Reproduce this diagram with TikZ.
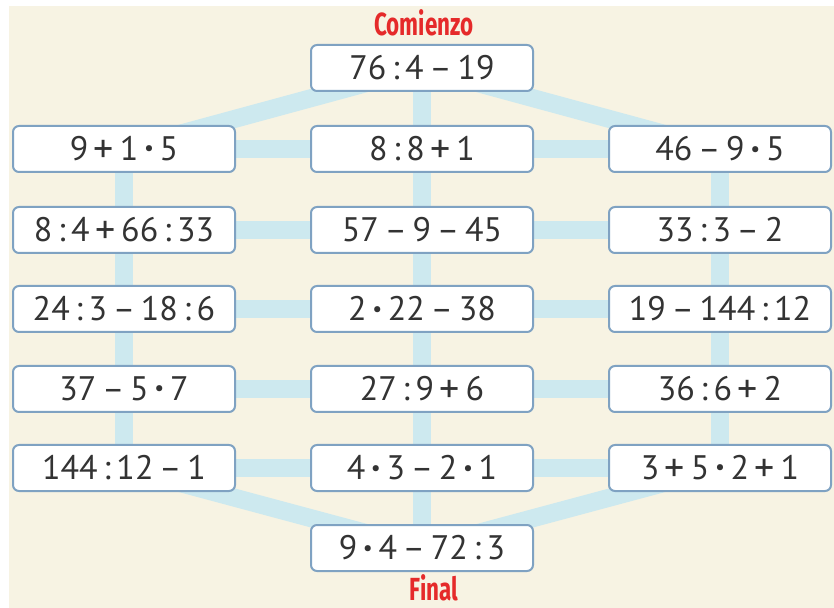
\documentclass[tikz,border=0pt]{standalone}
\usepackage{fontspec}
\setmainfont{PT Sans}
\newfontfamily\headfont[FakeStretch=0.7]{Fira Sans}
\usetikzlibrary{positioning}
\definecolor{paper}{HTML}{F7F3E3}
\definecolor{track}{HTML}{CDE9EF}
\definecolor{frame}{HTML}{7FA2C2}
\definecolor{ink}{HTML}{333333}
\definecolor{headred}{HTML}{E52A2A}
\newcommand{\dv}{\,:\,}
\newcommand{\mn}{\,--\,}
\newcommand{\pl}{\,\raisebox{-0.06em}{\fontsize{20}{20}\selectfont +}\,}
\newcommand{\tm}{\,\raisebox{0.14em}{\fontsize{11}{11}\selectfont •}\,}
\tikzstyle{term} = [draw=frame, line width=1pt, fill=white, rounded corners=3pt,
                    minimum width=111pt, minimum height=23pt, inner sep=0pt,
                    text=ink, font=\fontsize{17}{20}\selectfont]
\tikzstyle{link} = [draw=track, line width=9pt]
\tikzstyle{head} = [text=headred, anchor=base, inner sep=0pt,
                    font=\headfont\bfseries\fontsize{16}{19}\selectfont]
\pgfdeclarelayer{back}
\pgfdeclarelayer{links}
\pgfsetlayers{back,links,main}

\begin{document}
\begin{tikzpicture}[x=0.5pt, y=-0.5pt]
					\useasboundingbox (0, 0) rectangle (834, 608);
					\begin{pgfonlayer}{back}
						\fill[paper] (9, 6) rectangle (834, 608);
					\end{pgfonlayer}

					\node (StartLabel) [head] at (424, 36) {Comienzo};
					\node (Start) [term] at (422, 68) {76\dv4\mn19};

					% left column
					\node (Left1) [term] at (124, 149) {9\pl1\tm5};
					\node (Left2) [term] at (124, 230) {8\dv4\pl66\dv33};
					\node (Left3) [term] at (124, 309) {24\dv3\mn18\dv6};
					\node (Left4) [term] at (124, 389) {37\mn5\tm7};
					\node (Left5) [term] at (124, 468) {144\dv12\mn1};

					% middle column
					\node (Mid1) [term] at (422, 149) {8\dv8\pl1};
					\node (Mid2) [term] at (422, 230) {57\mn9\mn45};
					\node (Mid3) [term] at (422, 309) {2\tm22\mn38};
					\node (Mid4) [term] at (422, 389) {27\dv9\pl6};
					\node (Mid5) [term] at (422, 468) {4\tm3\mn2\tm1};

					% right column
					\node (Right1) [term] at (720, 149) {46\mn9\tm5};
					\node (Right2) [term] at (720, 230) {33\dv3\mn2};
					\node (Right3) [term] at (720, 309) {19\mn144\dv12};
					\node (Right4) [term] at (720, 389) {36\dv6\pl2};
					\node (Right5) [term] at (720, 468) {3\pl5\tm2\pl1};

					\node (End) [term] at (422, 548) {9\tm4\mn72\dv3};
					\node (EndLabel) [head] at (434, 600) {Final};

					\begin{pgfonlayer}{links}
						% top and bottom
						\draw[link] (Start.center) -- (Left1.center);
						\draw[link] (Start.center) -- (Right1.center);
						\draw[link] (Left5.center) -- (End.center);
						\draw[link] (Right5.center) -- (End.center);

						% columns
						\draw[link] (Start.center) -- (End.center);
						\draw[link] (Left1.center) -- (Left5.center);
						\draw[link] (Right1.center) -- (Right5.center);

						% rows
						\draw[link] (Left1.center) -- (Right1.center);
						\draw[link] (Left2.center) -- (Right2.center);
						\draw[link] (Left3.center) -- (Right3.center);
						\draw[link] (Left4.center) -- (Right4.center);
						\draw[link] (Left5.center) -- (Right5.center);
					\end{pgfonlayer}
				\end{tikzpicture}
\end{document}
